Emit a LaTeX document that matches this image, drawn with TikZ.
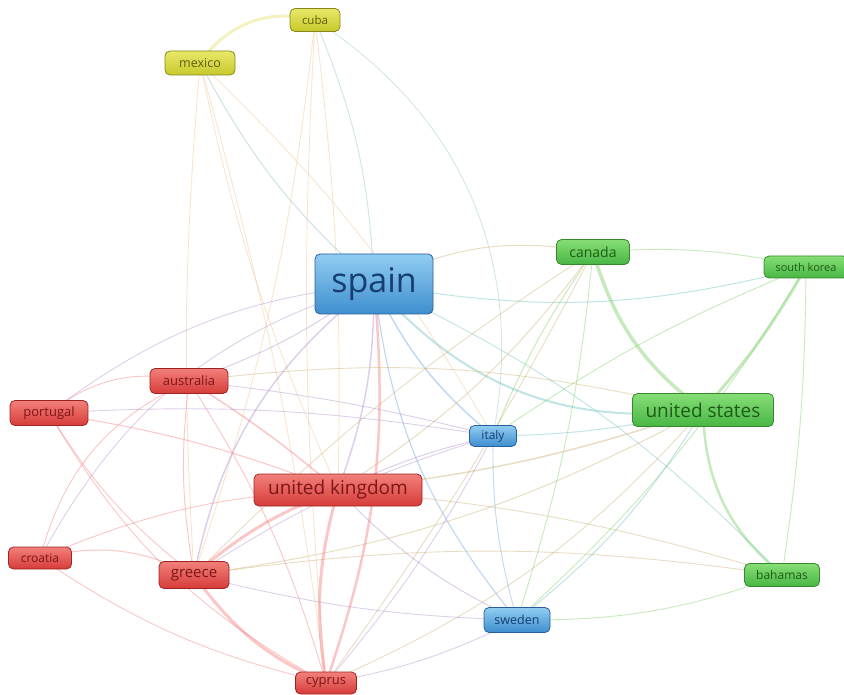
\documentclass[tikz,border=0pt]{standalone}
\usepackage{fontspec}
\setmainfont{Open Sans}
\usetikzlibrary{backgrounds}

% cluster colours
\definecolor{rtop}{RGB}{242,128,122}
\definecolor{rbot}{RGB}{214,60,58}
\definecolor{rline}{RGB}{160,35,35}
\definecolor{rtext}{RGB}{125,22,22}
\definecolor{btop}{RGB}{145,205,242}
\definecolor{bbot}{RGB}{62,142,206}
\definecolor{bline}{RGB}{40,95,155}
\definecolor{btext}{RGB}{22,62,112}
\definecolor{gtop}{RGB}{135,222,118}
\definecolor{gbot}{RGB}{72,182,68}
\definecolor{gline}{RGB}{55,135,45}
\definecolor{gtext}{RGB}{28,92,22}
\definecolor{ytop}{RGB}{232,232,105}
\definecolor{ybot}{RGB}{200,200,45}
\definecolor{yline}{RGB}{135,135,25}
\definecolor{ytext}{RGB}{92,92,12}
% link colours
\definecolor{eR}{RGB}{244,118,118}
\definecolor{eB}{RGB}{105,162,226}
\definecolor{eG}{RGB}{118,206,98}
\definecolor{eY}{RGB}{226,222,110}
\definecolor{eRB}{RGB}{175,140,205}
\definecolor{eRG}{RGB}{200,175,110}
\definecolor{eBG}{RGB}{105,190,190}
\definecolor{eYB}{RGB}{150,195,195}
\definecolor{eYR}{RGB}{240,192,140}

\tikzset{
  item/.style={rounded corners=5pt, inner sep=0pt, line width=0.8pt},
  rn/.style={item, top color=rtop, bottom color=rbot, draw=rline, text=rtext},
  bn/.style={item, top color=btop, bottom color=bbot, draw=bline, text=btext},
  gn/.style={item, top color=gtop, bottom color=gbot, draw=gline, text=gtext},
  yn/.style={item, top color=ytop, bottom color=ybot, draw=yline, text=ytext},
  sz/.style 2 args={minimum width=#1pt, minimum height=#2pt},
  fs/.style={font=\fontsize{#1}{#1}\selectfont},
  lk/.style={line width=#1, draw opacity=0.42, line cap=round},
  lk/.default=0.9pt
}

\begin{document}
\begin{tikzpicture}[x=1pt,y=-1pt]
\useasboundingbox (0,0) rectangle (844,695);

% items
\node[bn, sz={118}{60}, fs=34] (spain) at (374,284) {spain};
\node[yn, sz={50}{23}, fs=11.5] (cuba) at (315,20) {cuba};
\node[yn, sz={70}{24}, fs=12.5] (mexico) at (200,63) {mexico};
\node[gn, sz={73}{25}, fs=14] (canada) at (593,252) {canada};
\node[gn, sz={84}{22}, fs=11] (korea) at (806,267) {south korea};
\node[gn, sz={141}{33}, fs=19] (usa) at (703,410) {united states};
\node[bn, sz={47}{21}, fs=12] (italy) at (493,436) {italy};
\node[rn, sz={78}{25}, fs=13] (australia) at (189,381) {australia};
\node[rn, sz={78}{25}, fs=13] (portugal) at (49,413) {portugal};
\node[rn, sz={168}{32}, fs=19] (uk) at (338,490) {united kingdom};
\node[rn, sz={63}{22}, fs=12] (croatia) at (40,558) {croatia};
\node[rn, sz={70}{27}, fs=15] (greece) at (194,575) {greece};
\node[bn, sz={66}{25}, fs=12.5] (sweden) at (517,620) {sweden};
\node[gn, sz={75}{23}, fs=12] (bahamas) at (782,575) {bahamas};
\node[rn, sz={61}{22}, fs=13] (cyprus) at (326,683) {cyprus};

\begin{scope}[on background layer]
% yellow cluster links
\draw[lk=3pt, draw=eY] (mexico.center) to[bend left=35] (cuba.center);
\draw[lk=1.2pt, draw=eYB] (mexico.center) to[bend right=10] (spain.center);
\draw[lk, draw=eYR] (mexico.center) to[bend right=6] (uk.center);
\draw[lk, draw=eYR] (mexico.center) to[bend left=8] (italy.center);
\draw[lk, draw=eYR] (mexico.center) to[bend right=4] (greece.center);
\draw[lk, draw=eYR] (mexico.center) to[bend left=4] (cyprus.center);
\draw[lk=1pt, draw=eYB] (cuba.center) to[bend left=10] (spain.center);
\draw[lk, draw=eYB] (cuba.center) to[bend left=34] (italy.center);
\draw[lk, draw=eYR] (cuba.center) to[bend left=6] (greece.center);
\draw[lk, draw=eYR] (cuba.center) to[bend left=4] (uk.center);
\draw[lk, draw=eYR] (cuba.center) to[bend right=4] (cyprus.center);
% spain
\draw[lk=1pt, draw=eRG] (spain.center) to[bend left=18] (canada.center);
\draw[lk=1pt, draw=eBG] (spain.center) to[bend right=12] (korea.center);
\draw[lk=2pt, draw=eBG] (spain.center) to[bend right=28] (usa.center);
\draw[lk=1.5pt, draw=eB] (spain.center) to[bend right=12] (italy.center);
\draw[lk=1.2pt, draw=eB] (spain.center) to[bend right=16] (sweden.center);
\draw[lk=1.5pt, draw=eRB] (spain.center) to[bend left=10] (uk.center);
\draw[lk=1.5pt, draw=eRB] (spain.center) to[bend right=20] (greece.center);
\draw[lk=2.5pt, draw=eR] (spain.center) to[bend left=12] (cyprus.center);
\draw[lk=1pt, draw=eRB] (spain.center) to[bend left=8] (australia.center);
\draw[lk, draw=eRB] (spain.center) to[bend right=15] (portugal.center);
\draw[lk, draw=eRB] (spain.center) to[bend right=22] (croatia.center);
\draw[lk, draw=eBG] (spain.center) to[bend left=10] (bahamas.center);
% green cluster
\draw[lk=3.5pt, draw=eG] (canada.center) to[bend right=18] (usa.center);
\draw[lk=3pt, draw=eG] (korea.center) to[bend left=6] (usa.center);
\draw[lk=2.5pt, draw=eG] (usa.center) to[bend right=24] (bahamas.center);
\draw[lk, draw=eG] (canada.center) to[bend left=8] (korea.center);
\draw[lk=1pt, draw=eG] (canada.center) to[bend right=6] (italy.center);
\draw[lk, draw=eG] (canada.center) to[bend left=6] (sweden.center);
\draw[lk=1pt, draw=eRG] (canada.center) to[bend left=10] (uk.center);
\draw[lk, draw=eRG] (canada.center) to[bend right=6] (greece.center);
\draw[lk, draw=eRG] (canada.center) to[bend left=4] (cyprus.center);
\draw[lk, draw=eG] (korea.center) to[bend left=8] (sweden.center);
\draw[lk, draw=eG] (korea.center) to[bend right=6] (italy.center);
\draw[lk, draw=eG] (korea.center) to[bend left=4] (bahamas.center);
\draw[lk=1pt, draw=eBG] (usa.center) to[bend left=6] (italy.center);
\draw[lk=1.5pt, draw=eRG] (usa.center) to[bend left=6] (uk.center);
\draw[lk=1pt, draw=eRG] (usa.center) to[bend left=10] (greece.center);
\draw[lk=1pt, draw=eBG] (usa.center) to[bend left=10] (sweden.center);
\draw[lk, draw=eRG] (usa.center) to[bend left=12] (cyprus.center);
\draw[lk, draw=eRG] (usa.center) to[bend right=10] (australia.center);
\draw[lk, draw=eRG] (bahamas.center) to[bend right=8] (greece.center);
\draw[lk, draw=eRG] (bahamas.center) to[bend right=6] (uk.center);
\draw[lk, draw=eG] (bahamas.center) to[bend left=10] (sweden.center);
% red cluster
\draw[lk=3pt, draw=eR] (uk.center) to[bend right=10] (greece.center);
\draw[lk=3pt, draw=eR] (uk.center) to[bend right=12] (cyprus.center);
\draw[lk=3pt, draw=eR] (greece.center) to[bend right=15] (cyprus.center);
\draw[lk=1.5pt, draw=eR] (australia.center) to[bend left=4] (uk.center);
\draw[lk, draw=eR] (australia.center) to[bend right=8] (greece.center);
\draw[lk, draw=eR] (australia.center) to[bend right=25] (portugal.center);
\draw[lk, draw=eR] (australia.center) to[bend left=8] (cyprus.center);
\draw[lk, draw=eRB] (australia.center) to[bend left=4] (italy.center);
\draw[lk=1pt, draw=eR] (portugal.center) to[bend left=6] (uk.center);
\draw[lk, draw=eR] (portugal.center) to[bend right=10] (greece.center);
\draw[lk, draw=eR] (portugal.center) to[bend right=15] (cyprus.center);
\draw[lk, draw=eRB] (portugal.center) to[bend left=6] (italy.center);
\draw[lk=1pt, draw=eR] (croatia.center) to[bend left=20] (greece.center);
\draw[lk, draw=eR] (croatia.center) to[bend left=10] (uk.center);
\draw[lk, draw=eR] (croatia.center) to[bend right=10] (cyprus.center);
\draw[lk, draw=eR] (croatia.center) to[bend left=25] (australia.center);
\draw[lk, draw=eRB] (greece.center) to[bend right=6] (sweden.center);
\draw[lk, draw=eRB] (greece.center) to[bend left=8] (italy.center);
\draw[lk, draw=eRB] (cyprus.center) to[bend right=8] (sweden.center);
\draw[lk, draw=eRB] (cyprus.center) to[bend right=6] (italy.center);
\draw[lk=1pt, draw=eRB] (uk.center) to[bend left=6] (italy.center);
\draw[lk=1pt, draw=eRB] (uk.center) to[bend right=10] (sweden.center);
\draw[lk, draw=eB] (italy.center) to[bend right=8] (sweden.center);
\end{scope}
\end{tikzpicture}
\end{document}
